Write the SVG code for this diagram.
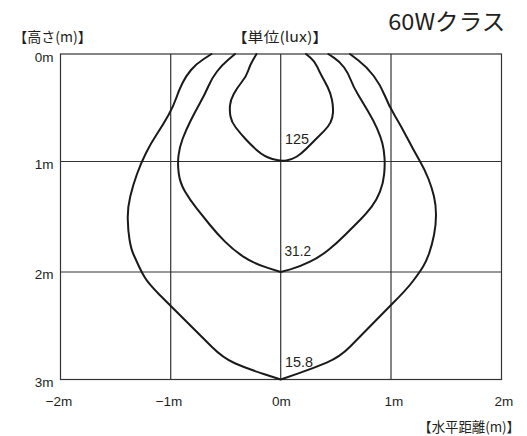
<svg xmlns="http://www.w3.org/2000/svg" width="527" height="436" viewBox="0 0 527 436">
<style>
.grid{fill:none;stroke:#333;stroke-width:1.2}
.iso{fill:none;stroke:#1a1a1a;stroke-width:2;stroke-linejoin:round;stroke-linecap:round}
.jp{font-family:"Noto Sans CJK JP","Liberation Sans",sans-serif;fill:#231f20}
.num{font-family:"Liberation Sans",Arial,sans-serif;fill:#231f20;font-size:13.5px}
.val{font-family:"Liberation Sans",Arial,sans-serif;fill:#231f20;font-size:14px}
</style>
<rect width="527" height="436" fill="#fff"/>
<g id="grid">
<rect class="grid" x="60.5" y="54" width="441" height="325.5"/>
<line class="grid" x1="170.7" y1="54" x2="170.7" y2="379.5"/>
<line class="grid" x1="280.7" y1="54" x2="280.7" y2="379.5"/>
<line class="grid" x1="391" y1="54" x2="391" y2="379.5"/>
<line class="grid" x1="60.5" y1="161.5" x2="501.5" y2="161.5"/>
<line class="grid" x1="60.5" y1="272" x2="501.5" y2="272"/>
</g>
<g id="isolux">
<path id="curve-125" class="iso" d="M256.5,54 L253.25,59.5 Q250,65 248.25,70.5 Q246.5,76 241.75,82 Q237,88 233.75,94 Q230.5,100 230,105.5 Q229.5,111 230.5,116.5 Q231.5,122 235.75,127.5 Q240,133 245.5,139 Q251,145 257.5,150.75 Q264,156.5 272.35,159 Q280.7,161.5 286.35,160.5 Q292,159.5 296.5,156.75 Q301,154 306,149 Q311,144 315.5,139.5 Q320,135 324.15,130.85 Q328.3,126.7 330.5,122.35 Q332.7,118 333,112.35 Q333.3,106.7 332,100 Q330.7,93.3 327.85,87.5 Q325,81.7 322.15,76.7 Q319.3,71.7 317.15,66.7 Q315,61.7 310.5,57.85 L306,54"/>
<path id="curve-31" class="iso" d="M235,54 L228.5,59.5 Q222,65 217,71.5 Q212,78 208.5,86 Q205,94 200,103 Q195,112 190.5,121 Q186,130 182.75,138.5 Q179.5,147 178.5,155.5 Q177.5,164 178.75,173.5 Q180,183 185,191.5 Q190,200 196.65,208.35 Q203.3,216.7 210,225 Q216.7,233.3 225,241.65 Q233.3,250 243.3,256.65 Q253.3,263.3 267,267.65 L280.7,272 L290.35,269.35 Q300,266.7 310,261.7 Q320,256.7 328.35,250 Q336.7,243.3 345,235 Q353.3,226.7 360,220 Q366.7,213.3 371.7,206.65 Q376.7,200 380,191.65 Q383.3,183.3 384.15,174.15 Q385,165 384.5,157.5 Q384,150 382.35,143.35 Q380.7,136.7 377,128.35 Q373.3,120 368.3,111.65 Q363.3,103.3 358.3,95 Q353.3,86.7 350.8,80 Q348.3,73.3 344.15,67.5 Q340,61.7 334.15,57.85 L328.3,54"/>
<path id="curve-15" class="iso" d="M211.5,54 L203.75,59 Q196,64 191,70 Q186,76 182.5,83 Q179,90 176.25,98 Q173.5,106 168.5,115 Q163.5,124 157.25,133.5 Q151,143 146,153 Q141,163 137,174 Q133,185 130.25,196.5 Q127.5,208 127.75,219 Q128,230 129.5,239.5 Q131,249 133.75,255 Q136.5,261 139,266.5 Q141.5,272 145,277.75 Q148.5,283.5 159.25,294.5 L212,347 Q223,358 234.85,363.25 Q246.7,368.5 263.7,374 L280.7,379.5 L297,373.9 Q313.3,368.3 326.65,362.65 Q340,357 350,346.8 L392,304 Q406.7,289.5 413,281 Q419.5,272.5 423,266.75 Q426.5,261 429.25,253 Q432,245 434,235 Q436,225 436,215 Q436,205 434,196.5 Q432,188 428.5,179 Q425,170 419.25,160 Q413.5,150 407.25,138 Q401,126 395,116 Q389,106 384.75,95.5 Q380.5,85 373.75,76 Q367,67 358.5,60.5 L350,54"/>
</g>
<g id="values">
<text class="val" x="285" y="143.5" textLength="24" lengthAdjust="spacingAndGlyphs">125</text>
<text class="val" x="284.5" y="256" textLength="26.5" lengthAdjust="spacingAndGlyphs">31.2</text>
<text class="val" x="285" y="366.7" textLength="28" lengthAdjust="spacingAndGlyphs">15.8</text>
</g>
<g id="y-axis-labels">
<text class="num" x="53.5" y="61.5" text-anchor="end">0m</text>
<text class="num" x="53.5" y="168.5" text-anchor="end">1m</text>
<text class="num" x="53.5" y="278.5" text-anchor="end">2m</text>
<text class="num" x="53.5" y="387" text-anchor="end">3m</text>
</g>
<g id="x-axis-labels">
<text class="num" x="59" y="406" text-anchor="middle">−2m</text>
<text class="num" x="169" y="406" text-anchor="middle">−1m</text>
<text class="num" x="281.5" y="406" text-anchor="middle">0m</text>
<text class="num" x="394" y="406" text-anchor="middle">1m</text>
<text class="num" x="504" y="406" text-anchor="middle">2m</text>
</g>
<g id="titles">
<text class="jp" x="388.3" y="30" font-size="22.5" textLength="117" lengthAdjust="spacingAndGlyphs">60Wクラス</text>
<text class="jp" x="13.3" y="41.5" font-size="14" textLength="78.4" lengthAdjust="spacingAndGlyphs">【高さ(m)】</text>
<text class="jp" x="231.7" y="41.5" font-size="14" textLength="96.6" lengthAdjust="spacingAndGlyphs">【単位(lux)】</text>
<text class="jp" x="418.3" y="431.5" font-size="13.5" textLength="101.7" lengthAdjust="spacingAndGlyphs">【水平距離(m)】</text>
</g>
</svg>
